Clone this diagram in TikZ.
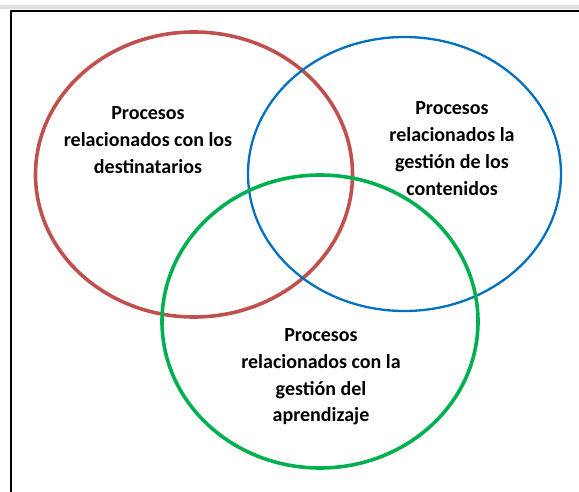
\documentclass[tikz,border=0pt]{standalone}
\usepackage{fontspec}
\setmainfont{Carlito}
\definecolor{vennred}{HTML}{C0504D}
\definecolor{vennblue}{HTML}{0070C0}
\definecolor{venngreen}{HTML}{00B050}
\begin{document}
\begin{tikzpicture}[x=1pt, y=-1pt, line join=round, line cap=round,
  label/.style={align=center, font=\fontsize{20}{26.8}\selectfont\bfseries, inner sep=0pt}]
  \useasboundingbox (0,0) rectangle (579,492);
  % frame, cut by the page edges
  \fill[black!13] (0,5.5) rectangle (579,9);
  \draw[line width=2pt] (11,11) rectangle (590,500);
  % circles
  \draw[vennred, line width=3.6pt] (194,174.5) ellipse (158.5 and 142.5);
  \draw[vennblue, line width=2.3pt] (404.5,174) ellipse (156.5 and 137);
  \draw[venngreen, line width=3.6pt] (320,321.5) ellipse (158 and 146.5);
  % labels
  \node[label] (dest) at (148,140) {Procesos\\relacionados con los\\destinatarios};
  \node[label] (cont) at (452,148.5) {Procesos\\relacionados la\\gestión de los\\contenidos};
  \node[label] (apre) at (321,377) {Procesos\\relacionados con la\\gestión del\\aprendizaje};
\end{tikzpicture}
\end{document}
